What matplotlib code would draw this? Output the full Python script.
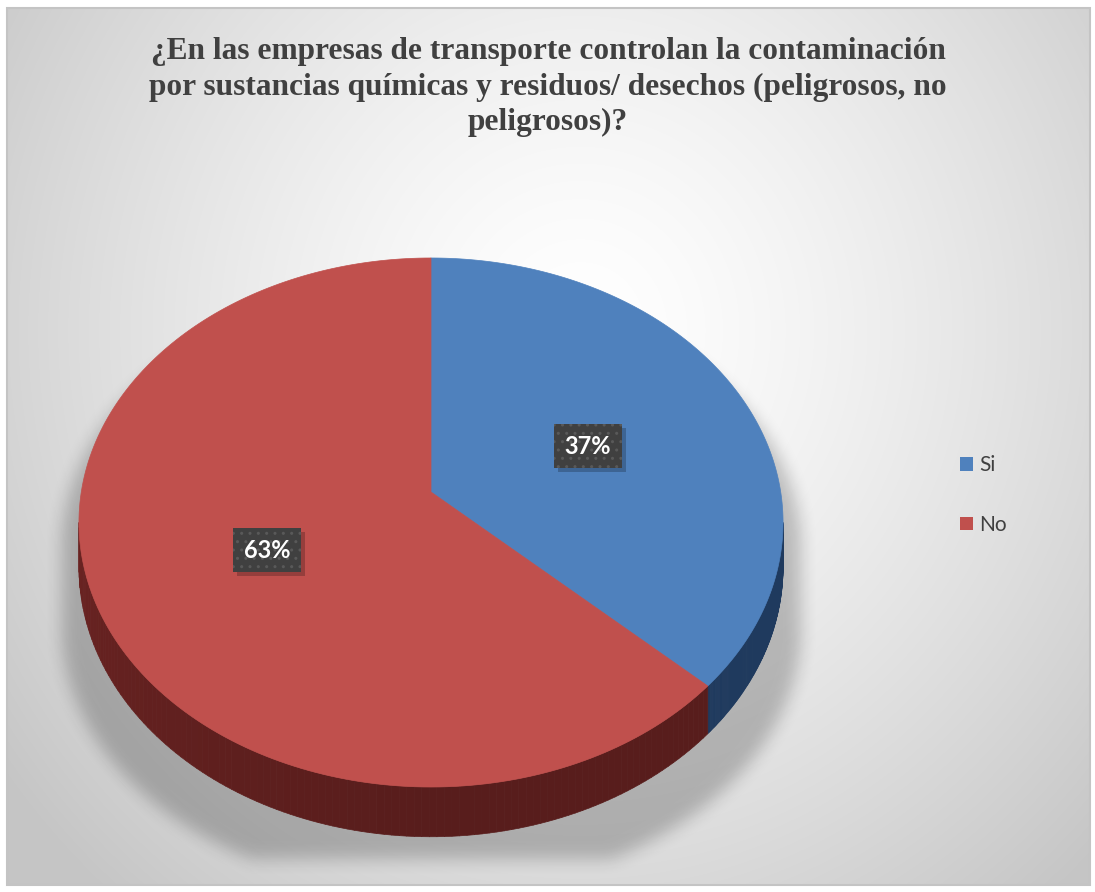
import matplotlib.pyplot as plt
import numpy as np
from matplotlib.patches import Polygon, Rectangle, Patch
from matplotlib.collections import PolyCollection
from matplotlib.colors import to_rgb

# data
labels = ["Si", "No"]
values = [37, 63]
pct_labels = ["37%", "63%"]
colors = ["#4f81bd", "#c0504d"]
side_colors = ["#1f3a5e", "#581d1c"]
title = ("¿En las empresas de transporte controlan la contaminación\n"
         "por sustancias químicas y residuos/ desechos (peligrosos, no\n"
         "peligrosos)?")

W, H = 1095, 892
# pie geometry in pixels, a tilted disc seen in perspective
cx, cy = 431, 492
A, B = 349.7, 261.0
k = 0.1153
D = 44.0


def proj(theta, r=1.0, down=0.0):
	# theta in degrees, clockwise from 12 o'clock
	t = np.radians(theta)
	u, v = r * np.sin(t), -r * np.cos(t)
	s = 1.0 - k * v
	return cx + A * u / s, cy + B * v / s + down / s


def box_blur(a, r):
	out = a.copy()
	for axis in (0, 1):
		pad = [(0, 0), (0, 0)]
		pad[axis] = (r + 1, r)
		c = np.cumsum(np.pad(out, pad, mode="edge"), axis=axis)
		if axis == 0:
			out = (c[2 * r + 1:, :] - c[:-2 * r - 1, :]) / (2 * r + 1)
		else:
			out = (c[:, 2 * r + 1:] - c[:, :-2 * r - 1]) / (2 * r + 1)
	return out


fig = plt.figure(figsize=(W / 100, H / 100), dpi=100)
fig.patch.set_facecolor("white")
ax = fig.add_axes([0, 0, 1, 1])
ax.set_xlim(0, W)
ax.set_ylim(H, 0)
ax.axis("off")

# background gradient inside the frame
fx0, fy0, fx1, fy1 = 7, 8, 1090, 885
yy, xx = np.mgrid[0:H, 0:W].astype(float)
d = np.sqrt((xx - 580) ** 2 + ((yy - 330) / 1.05) ** 2)
g = 255 - 58 * np.clip(d / 720, 0, 1) ** 1.4
bg = np.dstack([g, g, g]) / 255.0
ax.imshow(bg[fy0:fy1, fx0:fx1], extent=(fx0, fx1, fy1, fy0), zorder=0, interpolation="bilinear")
ax.add_patch(Rectangle((fx0, fy0), fx1 - fx0, fy1 - fy0, fill=False, ec="#c4c4c4", lw=1.5, zorder=1))

# soft shadow below the pie
ts_all = np.linspace(0, 360, 400)
rim = np.array([proj(t) for t in ts_all])
ecx, ecy = rim[:, 0].mean(), (rim[:, 1].min() + rim[:, 1].max()) / 2
erx = (rim[:, 0].max() - rim[:, 0].min()) / 2
ery = (rim[:, 1].max() - rim[:, 1].min()) / 2
mask = np.zeros((H, W))
for dy in np.arange(25, 110, 5):
	m = (((xx - ecx) / (erx * 1.05)) ** 2 + ((yy - ecy - dy) / ery) ** 2) <= 1
	mask = np.maximum(mask, m)
mask[yy > 858] = 0
mask = box_blur(box_blur(mask, 9), 9)
shadow = np.zeros((H, W, 4))
shadow[..., 3] = mask * 0.22
ax.imshow(shadow, extent=(0, W, H, 0), zorder=2, interpolation="bilinear")

# slice angles
fracs = np.array(values, dtype=float) / sum(values)
bounds = np.concatenate([[0], np.cumsum(fracs) * 360])
edge = np.degrees(np.arccos(-k))

# sides (the near half of the rim)
for i in range(len(values)):
	a0, a1 = max(bounds[i], edge), min(bounds[i + 1], 360 - edge)
	if a1 <= a0:
		continue
	ts = np.linspace(a0, a1, 120)
	base = np.array(to_rgb(side_colors[i]))
	quads, cols = [], []
	for t0, t1 in zip(ts[:-1], ts[1:]):
		quads.append([proj(t0), proj(t1), proj(t1, down=D), proj(t0, down=D)])
		# a little lighter toward the left side
		f = 1 + 0.22 * np.clip((t0 - 180) / 90, 0, 1)
		cols.append(np.clip(base * f, 0, 1))
	ax.add_collection(PolyCollection(quads, facecolors=cols, edgecolors=cols, linewidths=0.5, zorder=3))

# top faces
for i in range(len(values)):
	ts = np.linspace(bounds[i], bounds[i + 1], 200)
	pts = [(cx, cy)] + [proj(t) for t in ts]
	ax.add_patch(Polygon(pts, closed=True, fc=colors[i], ec=colors[i], lw=0.5, zorder=4))

# data labels
label_texts = []
for i in range(len(values)):
	mid = (bounds[i] + bounds[i + 1]) / 2
	lx, ly = proj(mid, r=0.5)
	ly += 5
	t = ax.text(lx, ly, pct_labels[i], fontsize=17, fontweight="bold", family="Lato", color="white",
				ha="center", va="center", zorder=6,
				bbox=dict(boxstyle="square,pad=0.45", fc="#404040", ec="#595959", lw=0, hatch=".."))
	label_texts.append(t)

# drop shadow behind each label box
fig.canvas.draw()
inv = ax.transData.inverted()
for t in label_texts:
	bb = t.get_bbox_patch().get_window_extent()
	(x0, y0), (x1, y1) = inv.transform([[bb.x0, bb.y0], [bb.x1, bb.y1]])
	ax.add_patch(Rectangle((min(x0, x1) + 4, min(y0, y1) + 4), abs(x1 - x0), abs(y1 - y0),
						   fc=(0, 0, 0, 0.22), ec="none", zorder=5))

# title
ax.text(548, 87, title, fontsize=22.6, fontweight="bold", family="Liberation Serif", color="#404040",
		ha="center", va="center", linespacing=1.3, zorder=6)

# legend
handles = [Patch(fc=c, ec="none") for c in colors]
leg = ax.legend(handles, labels, loc="center left", bbox_to_anchor=(941 / W, 1 - 495 / H), frameon=False,
				handlelength=0.65, handleheight=0.65, handletextpad=0.3, labelspacing=1.9,
				prop={"family": "Lato", "size": 15})
for txt in leg.get_texts():
	txt.set_color("#404040")

fig.savefig("out.png", dpi=100)
